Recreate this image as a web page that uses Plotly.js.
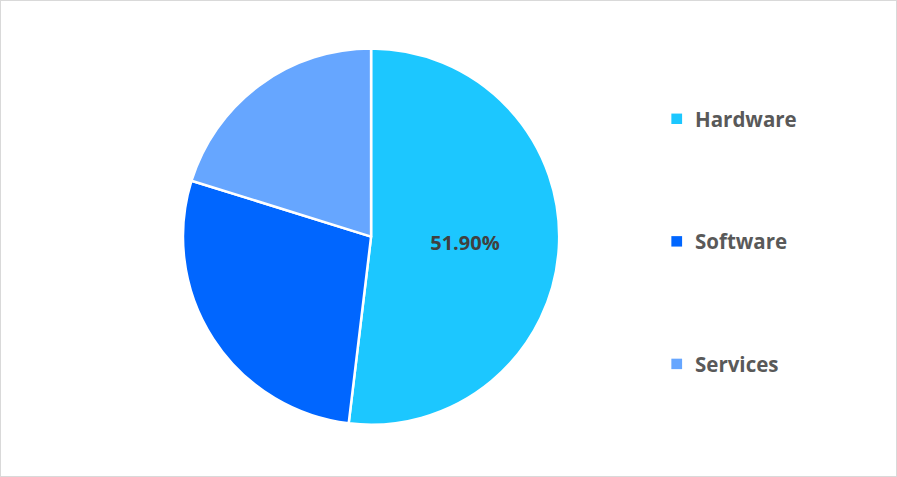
<!DOCTYPE html>
<html>
<head>
<meta charset="utf-8">
<script src="https://cdn.plot.ly/plotly-3.0.1.min.js"></script>
<style>
  html, body { margin: 0; padding: 0; background: #fff; }
  #chart { width: 897px; height: 477px; box-sizing: border-box; border: 1px solid #d9d9d9; }
</style>
</head>
<body>
<div id="chart"></div>
<script>
// segment data
const categories = ['Hardware', 'Software', 'Services'];
const shares = [51.9, 27.9, 20.2];
const colors = ['#1CC7FF', '#0066FF', '#66A6FF'];
// only the first slice carries a label
const sliceLabels = ['51.90%', '', ''];

const pie = {
    type: 'pie',
    labels: categories,
    values: shares,
    sort: false,
    direction: 'clockwise',
    rotation: 0,
    marker: { colors: colors, line: { color: '#ffffff', width: 2.5 } },
    text: sliceLabels,
    textinfo: 'text',
    textposition: 'inside',
    insidetextorientation: 'horizontal',
    insidetextfont: { family: 'Open Sans, sans-serif', size: 20, color: '#404040', weight: 'bold' },
    hoverinfo: 'label+percent',
    domain: { x: [0.203, 0.624], y: [0.108, 0.9] },
    showlegend: false
};

// hand-built legend, spaced like the original
const legendY = [0.752, 0.494, 0.236];
const shapes = [];
const annotations = [];
categories.forEach((name, i) => {
    const yc = legendY[i];
    shapes.push({
        type: 'rect', xref: 'paper', yref: 'paper',
        x0: 0.749, x1: 0.761, y0: yc - 0.011, y1: yc + 0.011,
        fillcolor: colors[i], line: { width: 0 }
    });
    annotations.push({
        xref: 'paper', yref: 'paper', x: 0.773, y: yc,
        xanchor: 'left', yanchor: 'middle', showarrow: false,
        text: '<b>' + name + '</b>',
        font: { family: 'Open Sans, sans-serif', size: 20.5, color: '#595959' }
    });
});

const layout = {
    width: 895,
    height: 475,
    margin: { t: 0, r: 0, b: 0, l: 0 },
    paper_bgcolor: '#ffffff',
    showlegend: false,
    shapes: shapes,
    annotations: annotations
};

Plotly.newPlot('chart', [pie], layout, { displayModeBar: false, staticPlot: true });
</script>
</body>
</html>
